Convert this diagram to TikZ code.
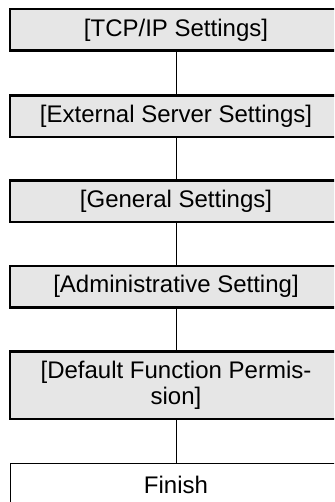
\documentclass[tikz,border=0pt]{standalone}
\usepackage{fontspec}
\setmainfont{Liberation Sans}
\definecolor{boxgray}{HTML}{E6E6E6}

\begin{document}
\begin{tikzpicture}[x=1pt, y=-1pt,
    setbox/.style={draw=black, line width=2.5pt, fill=boxgray, rectangle,
        minimum width=332pt, minimum height=41.5pt, inner sep=0pt,
        align=center, font=\fontsize{24}{26}\selectfont},
    endbox/.style={draw=black, line width=1pt, fill=white, rectangle,
        minimum width=332pt, minimum height=43pt, inner sep=0pt,
        align=center, font=\fontsize{24}{26}\selectfont},
    link/.style={draw=black, line width=0.9pt}]
    % 1. Khung hình
    \useasboundingbox (0, 0) rectangle (334, 502);
    \clip (0, 0) rectangle (334, 502);

    % 2. Các bước cài đặt
    \node[setbox] (tcpip) at (176, 30) {[TCP/IP Settings]};
    \node[setbox] (extserver) at (176, 116.5) {[External Server Settings]};
    \node[setbox] (general) at (176, 201.5) {[General Settings]};
    \node[setbox] (admin) at (176, 286.5) {[Administrative Setting]};
    \node[setbox, minimum height=67.5pt] (defperm) at (176, 385)
        {[Default Function Permis-\\sion]};

    % 3. Kết thúc
    \node[endbox] (finish) at (176, 485) {Finish};

    % 4. Đường nối
    \draw[link] (tcpip) -- (extserver);
    \draw[link] (extserver) -- (general);
    \draw[link] (general) -- (admin);
    \draw[link] (admin) -- (defperm);
    \draw[link] (defperm) -- (finish);
\end{tikzpicture}
\end{document}
